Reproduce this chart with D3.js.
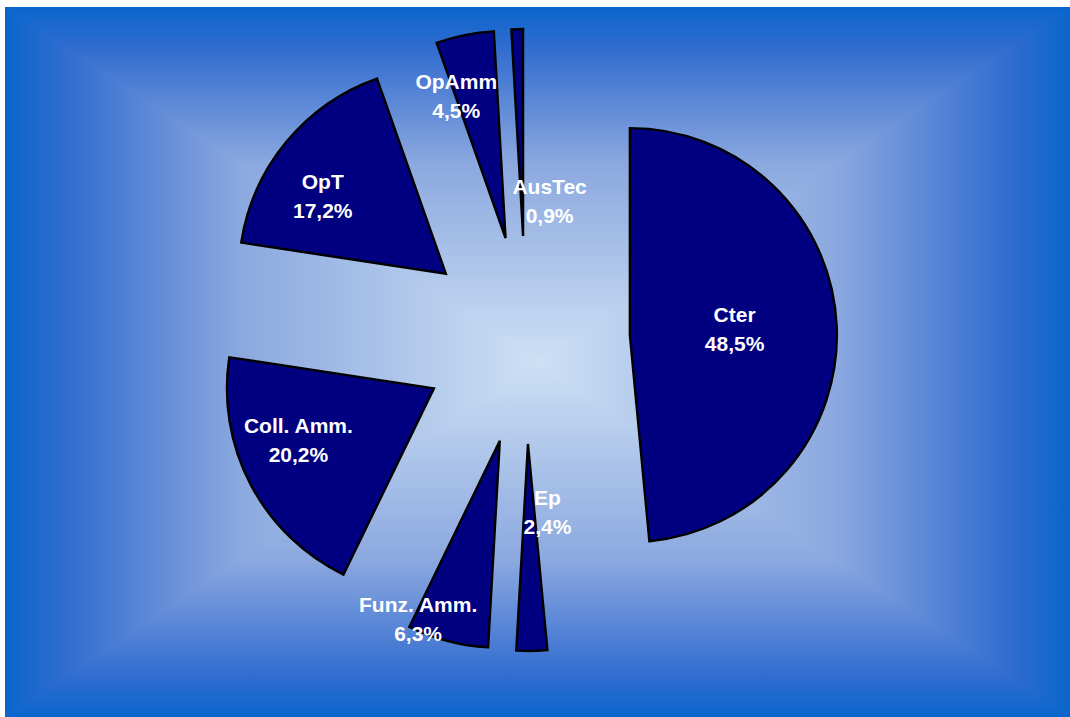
<!DOCTYPE html>
<html>
<head>
<meta charset="utf-8">
<script src="https://cdn.jsdelivr.net/npm/d3@7"></script>
<style>
  html, body { margin: 0; padding: 0; background: #fff; }
  svg { display: block; }
</style>
</head>
<body>
<div id="chart"></div>
<script>
// slice data (clockwise from 12 o'clock)
var categories = ["Cter", "Ep", "Funz. Amm.", "Coll. Amm.", "OpT", "OpAmm", "AusTec"];
var shares = [48.5, 2.4, 6.3, 20.2, 17.2, 4.5, 0.9];
var shareLabels = ["48,5%", "2,4%", "6,3%", "20,2%", "17,2%", "4,5%", "0,9%"];

// label placement: [distance from pie centre, angle in degrees]
var labelPolar = [[209, 86.5], [171, 172.8], [297, 201.3], [248, 246.6], [250, 305.6], [256, 344.2], [143, 9.5]];

var width = 1070,
  height = 717,
  bgLeft = 5,
  bgTop = 7,
  cx = 526,
  cy = 340,
  radius = 207,
  explode = 104;

var svg = d3.select("#chart").append("svg")
  .attr("width", width)
  .attr("height", height);

var defs = svg.append("defs");
var stops = [
  [0, "#0966cc"], [0.1, "#2c6bcf"], [0.21, "#4c7dd4"], [0.44, "#8ba8df"], [1, "#cde0f4"]
];

function mirroredGradient(id, x1, y1, x2, y2) {
  var g = defs.append("linearGradient")
    .attr("id", id)
    .attr("gradientUnits", "userSpaceOnUse")
    .attr("x1", x1).attr("y1", y1).attr("x2", x2).attr("y2", y2);
  stops.forEach(function (s) {
    g.append("stop").attr("offset", s[0] / 2).attr("stop-color", s[1]);
  });
  stops.slice().reverse().forEach(function (s) {
    g.append("stop").attr("offset", 1 - s[0] / 2).attr("stop-color", s[1]);
  });
}

var bgCx = (bgLeft + width) / 2,
  bgCy = (bgTop + height) / 2;
mirroredGradient("gradH", bgLeft, 0, width, 0);
mirroredGradient("gradV", 0, bgTop, 0, height);

// rectangular "from centre" background
svg.append("rect")
  .attr("x", bgLeft).attr("y", bgTop)
  .attr("width", width - bgLeft).attr("height", height - bgTop)
  .attr("fill", "url(#gradH)");
svg.append("polygon")
  .attr("points", [[bgLeft, bgTop], [width, bgTop], [bgCx, bgCy]].join(" "))
  .attr("fill", "url(#gradV)");
svg.append("polygon")
  .attr("points", [[bgLeft, height], [width, height], [bgCx, bgCy]].join(" "))
  .attr("fill", "url(#gradV)");

var pie = d3.pie().sort(null).value(function (d) { return d; });
var arcs = pie(shares);
var arc = d3.arc().innerRadius(0).outerRadius(radius);

var slices = svg.append("g").attr("transform", "translate(" + cx + "," + cy + ")");

slices.selectAll("path")
  .data(arcs)
  .enter()
  .append("path")
  .attr("transform", function (d) {
    var a = (d.startAngle + d.endAngle) / 2;
    return "translate(" + explode * Math.sin(a) + "," + -explode * Math.cos(a) + ")";
  })
  .attr("d", arc)
  .attr("fill", "#000080")
  .attr("stroke", "#000")
  .attr("stroke-width", 2.4)
  .attr("stroke-linejoin", "miter");

var labels = slices.selectAll("text")
  .data(arcs)
  .enter()
  .append("text")
  .attr("transform", function (d, i) {
    var p = labelPolar[i],
      a = p[1] * Math.PI / 180;
    return "translate(" + p[0] * Math.sin(a) + "," + -p[0] * Math.cos(a) + ")";
  })
  .attr("text-anchor", "middle")
  .attr("font-family", "Arial, 'Liberation Sans', sans-serif")
  .attr("font-weight", "bold")
  .attr("font-size", "21px")
  .attr("fill", "#fff");

labels.append("tspan")
  .attr("x", 0).attr("y", -5)
  .text(function (d, i) { return categories[i]; });
labels.append("tspan")
  .attr("x", 0).attr("y", 24)
  .text(function (d, i) { return shareLabels[i]; });
</script>
</body>
</html>
